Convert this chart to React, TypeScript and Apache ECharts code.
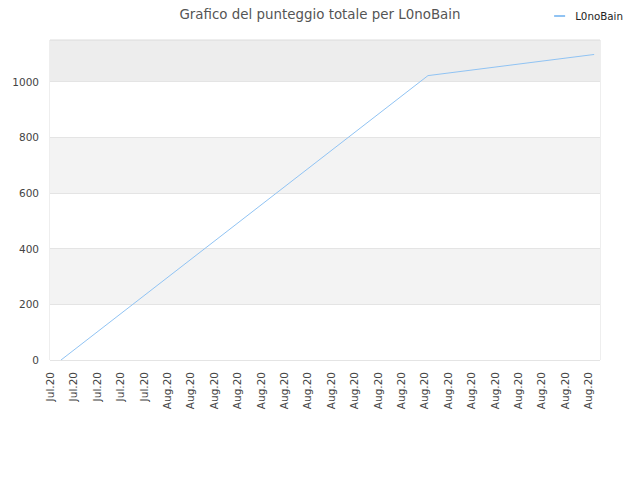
import React, { useEffect, useRef } from 'react'
import * as echarts from 'echarts'

// x position (in tick units), total score
const scoreX = [0.47, 16.15, 23.25]
const scoreY = [0, 1022, 1098]

const tickLabels = [
  'Jul.20', 'Jul.20', 'Jul.20', 'Jul.20', 'Jul.20',
  'Aug.20', 'Aug.20', 'Aug.20', 'Aug.20', 'Aug.20', 'Aug.20', 'Aug.20',
  'Aug.20', 'Aug.20', 'Aug.20', 'Aug.20', 'Aug.20', 'Aug.20', 'Aug.20',
  'Aug.20', 'Aug.20', 'Aug.20', 'Aug.20', 'Aug.20',
]

const seriesName = 'L0noBain'

const App = () => {
  const chartRef = useRef<HTMLDivElement>(null)

  useEffect(() => {
    if (!chartRef.current) return
    const chart = echarts.init(chartRef.current, null, { renderer: 'svg' })

    const option: echarts.EChartsOption = {
      animation: false,
      textStyle: { fontFamily: 'DejaVu Sans' },
      title: {
        text: 'Grafico del punteggio totale per ' + seriesName,
        left: 'center',
        top: 3,
        textStyle: { fontSize: 13.4, fontWeight: 'normal', color: '#555555' },
      },
      legend: {
        right: 12,
        top: 6,
        itemWidth: 11,
        itemHeight: 2,
        icon: 'rect',
        textStyle: { fontSize: 10.3, color: '#222222', padding: [0, 0, 0, 5] },
        data: [seriesName],
      },
      grid: {
        left: 50,
        right: 40,
        top: 40,
        bottom: 120,
        show: true,
        borderColor: '#dddddd',
        borderWidth: 1,
      },
      xAxis: {
        type: 'value',
        min: 0,
        max: 23.5,
        interval: 1,
        axisLine: { show: false },
        axisTick: { show: false },
        splitLine: { show: false },
        axisLabel: {
          rotate: 90,
          margin: 12,
          fontSize: 10.5,
          color: '#444444',
          showMaxLabel: false,
          formatter: (v: number) => tickLabels[Math.round(v)] ?? '',
        },
      },
      yAxis: {
        type: 'value',
        min: 0,
        max: 1150,
        interval: 200,
        axisLine: { show: false },
        axisTick: { show: false },
        axisLabel: {
          margin: 11,
          fontSize: 10.5,
          color: '#444444',
          showMaxLabel: false,
          formatter: (v: number) => String(v),
        },
        splitLine: { lineStyle: { color: '#e4e4e4' } },
        splitArea: {
          show: true,
          areaStyle: {
            color: ['#ffffff', '#f3f3f3', '#ffffff', '#f3f3f3', '#ffffff', '#ededed'],
          },
        },
      },
      series: [
        {
          name: seriesName,
          type: 'line',
          showSymbol: false,
          lineStyle: { width: 1, color: '#90c3f3' },
          itemStyle: { color: '#90c3f3' },
          data: scoreX.map((x, i) => [x, scoreY[i]]),
        },
      ],
    }

    chart.setOption(option)
    return () => {
      chart.dispose()
    }
  }, [])

  return <div ref={chartRef} style={{ width: 640, height: 480, margin: -8 }} />
}

export default App
